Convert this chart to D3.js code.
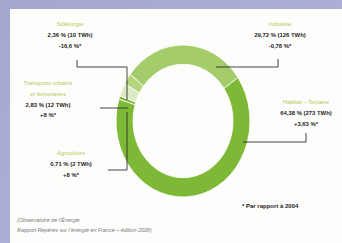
<!DOCTYPE html>
<html><head><meta charset="utf-8">
<script src="https://cdn.jsdelivr.net/npm/d3@7"></script>
<style>html,body{margin:0;padding:0;background:#a7abd3;}svg{display:block;}</style>
</head><body>
<svg id="c" width="342" height="243"></svg>
<script>
// ---- data ----
const categories = ["Habitat – Tertiaire", "Agriculture", "Transports urbains et ferroviaires", "Sidérurgie", "Industrie"];
const shares = [64.38, 0.71, 2.83, 2.36, 29.72];
const twh = [273, 2, 12, 10, 126];
const evolution = ["+3,63 %*", "+8 %*", "+8 %*", "-16,6 %*", "-0,78 %*"];
const nameLines = [["Habitat – Tertiaire"], ["Agriculture"], ["Transports urbains", "et ferroviaires"], ["Sidérurgie"], ["Industrie"]];
const note = "* Par rapport à 2004";
const source = ["(Observatoire de l’Énergie", "Rapport Repères sur l’énergie en France – édition 2008)"];

// ---- styling / layout ----
const colors = ["#7db936", "#76b431", "#dcebc6", "#b3d57c", "#a5cc6a"];
const fmt = v => d3.format(".2f")(v).replace(".", ",");
const svg = d3.select("#c");
const defs = svg.append("defs");
const g0 = defs.append("linearGradient").attr("id","bg").attr("x1","0").attr("y1","0").attr("x2","1").attr("y2","1");
g0.append("stop").attr("offset","0").attr("stop-color","#a3a7d0");
g0.append("stop").attr("offset","1").attr("stop-color","#b3b6db");
svg.append("rect").attr("width",342).attr("height",243).attr("fill","url(#bg)");
svg.append("rect").attr("x",10).attr("y",9).attr("width",332).attr("height",234).attr("fill","#fdfdfc");

const cx = 183, cy = 121, rOut = 67, rIn = 50, sy = 76/67;
const pie = d3.pie().sort(null).startAngle(55*Math.PI/180).endAngle(415*Math.PI/180);
const arcs = pie(shares);
const arc = d3.arc().innerRadius(rIn).outerRadius(rOut);
const ring = svg.append("g").attr("transform", `translate(${cx},${cy}) scale(1,${sy})`);
ring.selectAll("path").data(arcs).join("path")
  .attr("d", arc).attr("fill", (d,i) => colors[i])
  .attr("stroke", "#ffffff").attr("stroke-width", 0.8);

// leader lines
const leaders = [
  [[243,142],[306,142],[306,133]],
  [[108,170],[127,170],[127,112]],
  [[100,108],[128,108]],
  [[77,60],[77,67],[127,67],[127,100]],
  [[216,67],[278,67],[278,59]]
];
const line = d3.line();
svg.append("g").selectAll("path").data(leaders).join("path")
  .attr("d", line).attr("fill","none").attr("stroke","#2e2e2e").attr("stroke-width",0.9);

// labels
const labelPos = [[306,104,"middle"],[71,155,"middle"],[48,85,"middle"],[70,26,"middle"],[280,26,"middle"]];
const lh = 10.8;
const lab = svg.append("g").attr("font-family","'Liberation Sans', Arial, sans-serif").attr("font-size",5.9);
categories.forEach((c,i) => {
  const [x,y,a] = labelPos[i];
  const t = lab.append("text").attr("x",x).attr("y",y).attr("text-anchor",a);
  let k = 0;
  nameLines[i].forEach(s => { t.append("tspan").attr("x",x).attr("dy", k++ ? lh : 0).attr("fill","#b0cc55").text(s); });
  t.append("tspan").attr("x",x).attr("dy",lh).attr("fill","#1e1e1e").attr("font-weight","bold").text(`${fmt(shares[i])} % (${twh[i]} TWh)`);
  t.append("tspan").attr("x",x).attr("dy",lh).attr("fill","#1e1e1e").attr("font-weight","bold").text(evolution[i]);
});
svg.append("text").attr("x",242).attr("y",208).attr("font-family","'Liberation Sans', Arial, sans-serif")
  .attr("font-size",6).attr("font-weight","bold").attr("fill","#1e1e1e").text(note);
svg.append("g").selectAll("text").data(source).join("text")
  .attr("x",17).attr("y",(d,i)=>222+i*10).attr("font-family","'Liberation Sans', Arial, sans-serif")
  .attr("font-size",5.4).attr("font-style","italic").attr("fill","#7a7a7a").text(d=>d);
</script>
</body></html>
